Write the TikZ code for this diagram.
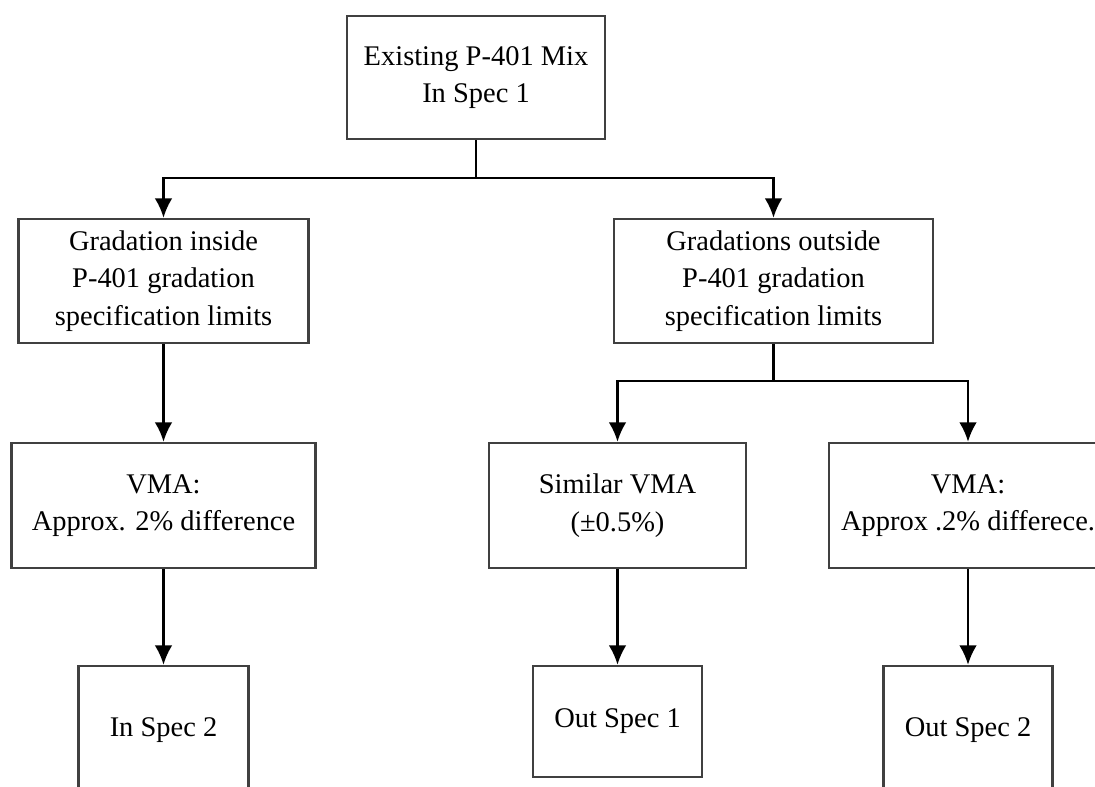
\documentclass[tikz,border=0pt]{standalone}
\usepackage{fontspec}
\setmainfont{Liberation Serif}
\usetikzlibrary{arrows.meta, positioning}

\begin{document}
\begin{tikzpicture}[>={Latex[length=11pt,width=10pt]}, x=0.02cm, y=-0.02cm, line/.style={draw=black, line width=1.4pt}, border/.style={draw=black!75, line width=1.4pt}]
    % Define styles for boxes and branch points
    \tikzstyle{block} = [rectangle, fill=white, align=center, inner sep=0pt, font=\fontsize{16.2pt}{21.3pt}\selectfont, border]
    \tikzstyle{split} = [coordinate]

    \useasboundingbox (0,0) rectangle (1095,787);

    % Nodes placement
    \node [block, minimum width=5.16cm, minimum height=2.46cm] (mix) at (476,77.5) {Existing P-401 Mix\\In Spec 1};
    \node [block, minimum width=5.8cm, minimum height=2.48cm] (inside) at (163.5,281) {Gradation inside\\P-401 gradation\\specification limits};
    \node [block, minimum width=6.38cm, minimum height=2.48cm] (outside) at (773.5,281) {Gradations outside\\P-401 gradation\\specification limits};
    \node [block, minimum width=6.08cm, minimum height=2.5cm] (vmaL) at (163.5,505.5) {VMA:\\Approx. 2\% difference};
    \node [block, minimum width=5.14cm, minimum height=2.5cm] (similar) at (617.5,505.5) {Similar VMA\\(±0.5\%)};
    \node [block, minimum width=5.56cm, minimum height=2.5cm] (vmaR) at (968,505.5) {VMA:\\Approx .2\% differece.};
    \node [block, minimum width=3.4cm, minimum height=2.56cm] (inspec) at (163.5,730) {In Spec 2};
    \node [block, minimum width=3.38cm, minimum height=2.22cm] (outone) at (617.5,721.5) {Out Spec 1};
    \node [block, minimum width=3.38cm, minimum height=2.56cm] (outtwo) at (968,730) {Out Spec 2};
    \node [split] (split1) at (476,178) {};
    \node [split] (split2) at (773.5,381) {};

    % Draw edges
    \draw[line] (mix) -- (split1);
    \draw[line,->] (split1) -| (inside);
    \draw[line,->] (split1) -| (outside);
    \draw[line,->] (inside) -- (vmaL);
    \draw[line] (outside) -- (split2);
    \draw[line,->] (split2) -| (similar);
    \draw[line,->] (split2) -| (vmaR);

    % Last row
    \draw[line,->] (vmaL) -- (inspec);
    \draw[line,->] (similar) -- (outone);
    \draw[line,->] (vmaR) -- (outtwo);
\end{tikzpicture}
\end{document}
